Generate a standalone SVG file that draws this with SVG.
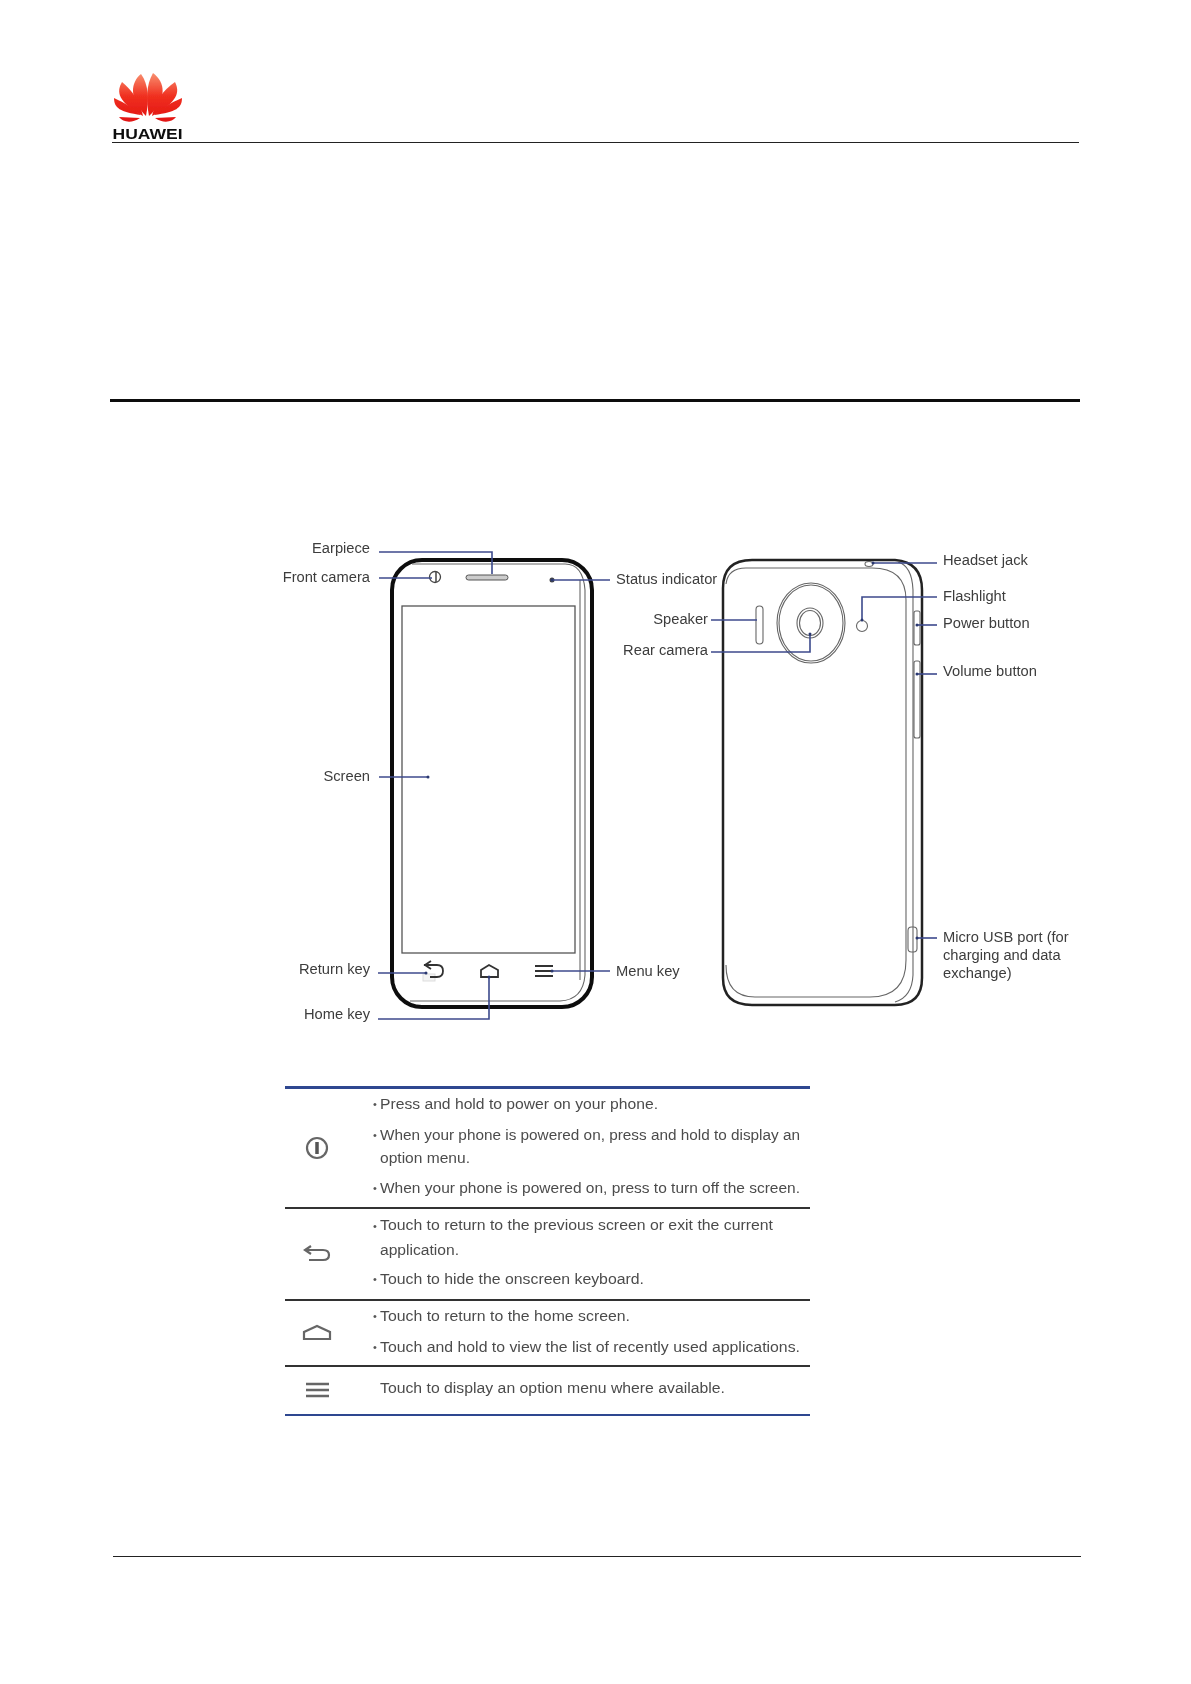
<svg xmlns="http://www.w3.org/2000/svg" width="1191" height="1684" viewBox="0 0 1191 1684">
<style>
text{font-family:"Liberation Sans",Arial,sans-serif}
.l{font-size:14.700px;fill:#3c3c3c}
.e{text-anchor:end}
.t{font-size:15.500px;fill:#4c4c4c}
.b{font-size:11px;fill:#555}
.c{fill:none;stroke:#3c4a8c;stroke-width:1.600}
.o{fill:none;stroke:#111;stroke-width:4}
.g{fill:none;stroke:#666;stroke-width:1.100}
.k{fill:none;stroke:#333;stroke-width:1.800}
.d{fill:#2c3870}
.i{fill:none;stroke:#666;stroke-width:2.200}
</style>
<defs>
<linearGradient id="red" gradientUnits="userSpaceOnUse" x1="148" y1="73" x2="148" y2="124"><stop offset="0" stop-color="#f89070"/><stop offset=".45" stop-color="#f03020"/><stop offset="1" stop-color="#e01010"/></linearGradient>
<filter id="soft" x="-2%" y="-2%" width="104%" height="104%"><feGaussianBlur stdDeviation="0.350"/></filter>
</defs>
<rect width="1191" height="1684" fill="#fff"/>
<g filter="url(#soft)">
<g id="logo">
<g fill="url(#red)">
<path d="M149 116C146 100 146 85 153 73C165 82 168 98 149 116Z"/>
<path d="M146 116C149 100 149 85 141 74C131 82 128 98 146 116Z"/>
<path d="M152 116C155 102 163 90 175 82C180 92 178 102 152 116Z"/>
<path d="M143 116C140 102 132 90 122 82C116 92 118 102 143 116Z"/>
<path d="M154 115C162 108 170 103 182 98C182 108 176 112 154 115Z"/>
<path d="M141 115C133 108 125 103 114 98C114 108 120 112 141 115Z"/>
<path d="M155 118L176 117C172 122 164 124 155 118Z"/>
<path d="M140 118L119 117C123 122 131 124 140 118Z"/>
</g>
<text x="147.500" y="139" text-anchor="middle" font-size="14" font-weight="700" fill="#111" textLength="70" lengthAdjust="spacingAndGlyphs">HUAWEI</text>
</g>
<g id="rules">
<rect x="112" y="142" width="967" height="1" fill="#222"/>
<rect x="110" y="399" width="970" height="3" fill="#111"/>
<rect x="113" y="1556" width="968" height="1" fill="#222"/>
</g>
<g id="front-phone">
<rect class="o" x="392" y="560" width="200" height="447" rx="30"/>
<path class="g" d="M412 564H565Q583 564 585 590V975Q583 1000 560 1001H410"/>
<path class="g" d="M580 580V980"/>
<rect x="402" y="606" width="173" height="347" fill="none" stroke="#555" stroke-width="1.300"/>
<rect x="466" y="575" width="42" height="5" rx="2.500" fill="#ccc" stroke="#555"/>
<circle cx="435" cy="577" r="5.500" fill="#fff" stroke="#444" stroke-width="1.300"/>
<path d="M436 572V582" stroke="#444" stroke-width="1.500"/>
<circle cx="552" cy="580" r="2.500" fill="#444"/>
<rect x="423" y="974" width="12" height="7" fill="#f4f4f4" stroke="#ddd"/>
<path class="k" d="M424 965H437Q443 965 443 971T437 977H430M431 961L425 965L431 969"/>
<path class="k" stroke-width="2" d="M481 977V970L489 965L498 970V977Z"/>
<path d="M535 966H553M535 971H553M535 976H553" stroke="#333" stroke-width="2"/>
</g>
<g id="back-phone">
<path d="M723 588Q723 560 752 560H895Q922 562 922 590V978Q922 1005 895 1005H752Q723 1005 723 978Z" fill="none" stroke="#222" stroke-width="2.500"/>
<path class="g" d="M726 584Q728 568 746 568H872Q906 568 906 600V960Q906 997 870 997H755Q726 997 726 965"/>
<path class="g" d="M913 590V975Q912 997 895 1002"/>
<path class="g" d="M898 562Q912 566 913 590"/>
<rect class="g" x="756" y="606" width="7" height="38" rx="3.500"/>
<ellipse class="g" cx="811" cy="623" rx="34" ry="40"/>
<ellipse class="g" cx="811" cy="623" rx="32" ry="38"/>
<ellipse class="g" cx="810" cy="623" rx="13" ry="15"/>
<ellipse class="g" cx="810" cy="623" rx="10.500" ry="12.500"/>
<circle class="g" cx="862" cy="626" r="5.500"/>
<ellipse class="g" cx="869" cy="564" rx="4" ry="2.500"/>
<rect class="g" x="914" y="611" width="6" height="34" rx="2"/>
<rect class="g" x="914" y="661" width="6" height="77" rx="2"/>
<rect class="g" x="908" y="927" width="9" height="25" rx="3.500"/>
</g>
<g id="connectors">
<path class="c" d="M379 552H492V574"/>
<path class="c" d="M379 578H432"/>
<path class="c" d="M552 580H610"/>
<path class="c" d="M711 620H757"/>
<path class="c" d="M711 652H810V634"/>
<path class="c" d="M873 563H937"/>
<path class="c" d="M937 597H862V620"/>
<path class="c" d="M917 625H937"/>
<path class="c" d="M917 674H937"/>
<path class="c" d="M917 938H937"/>
<path class="c" d="M379 777H428"/>
<path class="c" d="M378 973H426"/>
<path class="c" d="M378 1019H489V977"/>
<path class="c" d="M552 971H610"/>
<circle class="d" cx="428" cy="777" r="1.500"/>
<circle class="d" cx="426" cy="973" r="1.500"/>
<circle class="d" cx="489" cy="977" r="1.500"/>
<circle class="d" cx="552" cy="971" r="1.500"/>
<circle class="d" cx="552" cy="580" r="1.500"/>
<circle class="d" cx="810" cy="634" r="1.500"/>
<circle class="d" cx="862" cy="620" r="1.500"/>
<circle class="d" cx="917" cy="625" r="1.500"/>
<circle class="d" cx="917" cy="674" r="1.500"/>
<circle class="d" cx="917" cy="938" r="1.500"/>
<circle class="d" cx="873" cy="563" r="1.500"/>
</g>
<g id="labels">
<text class="l e" x="370" y="553">Earpiece</text>
<text class="l e" x="370" y="582">Front camera</text>
<text class="l" x="616" y="584">Status indicator</text>
<text class="l e" x="708" y="624">Speaker</text>
<text class="l e" x="708" y="655">Rear camera</text>
<text class="l e" x="370" y="781">Screen</text>
<text class="l e" x="370" y="974">Return key</text>
<text class="l e" x="370" y="1019">Home key</text>
<text class="l" x="616" y="976">Menu key</text>
<text class="l" x="943" y="565">Headset jack</text>
<text class="l" x="943" y="601">Flashlight</text>
<text class="l" x="943" y="628">Power button</text>
<text class="l" x="943" y="676">Volume button</text>
<text class="l" x="943" y="942">Micro USB port (for</text>
<text class="l" x="943" y="960">charging and data</text>
<text class="l" x="943" y="978">exchange)</text>
</g>
<g id="table">
<rect x="285" y="1086" width="525" height="3" fill="#2f4790"/>
<rect x="285" y="1207" width="525" height="2" fill="#333"/>
<rect x="285" y="1299" width="525" height="2" fill="#333"/>
<rect x="285" y="1365" width="525" height="2" fill="#333"/>
<rect x="285" y="1414" width="525" height="2" fill="#2f4790"/>
<g id="icon-power"><circle class="i" cx="317" cy="1148" r="10"/><path d="M317 1142V1154" stroke="#555" stroke-width="3.500"/></g>
<g id="icon-return"><path class="i" d="M305 1250H323Q329 1250 329 1255T323 1260H309M311 1246L305 1250L311 1254"/></g>
<g id="icon-home"><path class="i" stroke-width="2.600" d="M304 1339V1332L317 1326L330 1332V1339Z"/></g>
<g id="icon-menu"><path d="M306 1384H329M306 1390H329M306 1396H329" stroke="#666" stroke-width="2.600"/></g>
<text class="b" x="373" y="1108">•</text><text class="t" x="380" y="1109" textLength="278" lengthAdjust="spacingAndGlyphs">Press and hold to power on your phone.</text>
<text class="b" x="373" y="1139">•</text><text class="t" x="380" y="1140" textLength="420" lengthAdjust="spacingAndGlyphs">When your phone is powered on, press and hold to display an</text>
<text class="t" x="380" y="1163" textLength="90" lengthAdjust="spacingAndGlyphs">option menu.</text>
<text class="b" x="373" y="1192">•</text><text class="t" x="380" y="1193" textLength="420" lengthAdjust="spacingAndGlyphs">When your phone is powered on, press to turn off the screen.</text>
<text class="b" x="373" y="1230">•</text><text class="t" x="380" y="1230" textLength="393" lengthAdjust="spacingAndGlyphs">Touch to return to the previous screen or exit the current</text>
<text class="t" x="380" y="1255" textLength="79" lengthAdjust="spacingAndGlyphs">application.</text>
<text class="b" x="373" y="1283">•</text><text class="t" x="380" y="1284" textLength="264" lengthAdjust="spacingAndGlyphs">Touch to hide the onscreen keyboard.</text>
<text class="b" x="373" y="1320">•</text><text class="t" x="380" y="1321" textLength="250" lengthAdjust="spacingAndGlyphs">Touch to return to the home screen.</text>
<text class="b" x="373" y="1351">•</text><text class="t" x="380" y="1352" textLength="420" lengthAdjust="spacingAndGlyphs">Touch and hold to view the list of recently used applications.</text>
<text class="t" x="380" y="1393" textLength="345" lengthAdjust="spacingAndGlyphs">Touch to display an option menu where available.</text>
</g>
</g>
</svg>
